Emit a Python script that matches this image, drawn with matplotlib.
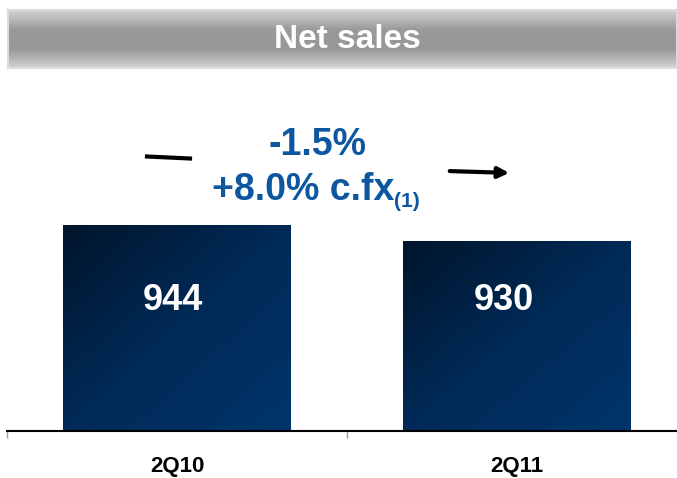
import numpy as np
import matplotlib.pyplot as plt
from matplotlib.colors import LinearSegmentedColormap
from matplotlib.lines import Line2D
from matplotlib.patches import FancyArrowPatch
from matplotlib.transforms import offset_copy

categories = ['2Q10', '2Q11']
net_sales = [944, 930]
change_reported = '-1.5%'
change_cfx = '+8.0% c.fx'
footnote = '(1)'

plt.rcParams['font.family'] = ['Liberation Sans', 'DejaVu Sans']

W, H = 677, 478
fig = plt.figure(figsize=(W / 100, H / 100), dpi=100)


def fx(px):
    return px / W


def fy(py):
    return 1 - py / H


# title banner with vertical grey gradient
bax = fig.add_axes([fx(8), fy(68), fx(669), 58 / H])
grey = LinearSegmentedColormap.from_list('g', ['#d2d2d2', '#9a9a9a', '#979797', '#d2d2d2'])
bax.imshow(np.linspace(0, 1, 100).reshape(-1, 1), cmap=grey, aspect='auto',
           extent=(0, 1, 0, 1), origin='upper')
bax.set_xlim(0, 1)
bax.set_ylim(0, 1)
bax.set_xticks([])
bax.set_yticks([])
for s in bax.spines.values():
    s.set_color('#dcdcdc')
    s.set_linewidth(1.5)
bax.text(0.508, 0.5, 'Net sales', color='white', fontsize=24, fontweight='bold',
         ha='center', va='center',
         family=['Liberation Sans Narrow', 'Liberation Sans', 'DejaVu Sans'])

# main bar axes
ax = fig.add_axes([fx(7), fy(431), 670 / W, 331 / H])
ymin = 763.75
px_per_unit = 206 / (944 - ymin)
ax.set_xlim(-0.5, -0.5 + 670 / 340)
ax.set_ylim(ymin, ymin + 331 / px_per_unit)

x = np.arange(len(categories))
bars = ax.bar(x, net_sales, width=0.668, color='#00264d', zorder=2)

navy = LinearSegmentedColormap.from_list('n', ['#00152b', '#002a57', '#00356b'])
gy, gx = np.mgrid[0:1:100j, 0:1:100j]
grad = (gx + gy) / 2
label_shift = [-4, -13]  # labels sit a little left of bar centre in the original
for b, v, dx in zip(bars, net_sales, label_shift):
    im = ax.imshow(grad, cmap=navy, aspect='auto', origin='upper', zorder=3,
                   extent=(b.get_x(), b.get_x() + b.get_width(), ymin, v))
    im.set_clip_path(b)
    tr = offset_copy(ax.transData, fig=fig, x=dx, y=0, units='dots')
    ax.text(b.get_x() + b.get_width() / 2, 878, str(v), color='white',
            fontsize=26, fontweight='bold', ha='center', va='center',
            zorder=4, transform=tr)

for side in ['left', 'right', 'top']:
    ax.spines[side].set_visible(False)
ax.spines['bottom'].set_color('black')
ax.spines['bottom'].set_linewidth(1.5)
ax.spines['bottom'].set_zorder(5)
ax.set_yticks([])
ax.set_xticks(x)
ax.set_xticklabels(categories, fontsize=16, fontweight='bold')
ax.tick_params(axis='x', which='major', length=0, pad=18)
ax.set_xticks([-0.5, 0.5], minor=True)
ax.tick_params(axis='x', which='minor', length=5, color='#a0a0a0', width=1)

# growth annotation
blue = '#0d56a0'
fig.text(fx(318), fy(155), change_reported, color=blue, fontsize=27,
         fontweight='bold', ha='center', va='baseline')
fig.text(fx(212), fy(200), change_cfx, color=blue, fontsize=27,
         fontweight='bold', ha='left', va='baseline')
fig.text(fx(394), fy(207), footnote, color=blue, fontsize=15,
         fontweight='bold', ha='left', va='baseline')

fig.add_artist(Line2D([fx(147), fx(190)], [fy(156.5), fy(158.5)],
                      transform=fig.transFigure, color='black', lw=3))
fig.add_artist(FancyArrowPatch((fx(447), fy(171)), (fx(512), fy(173)),
                               transform=fig.transFigure, arrowstyle='-|>',
                               mutation_scale=16, lw=3, color='black'))

fig.savefig('out.png', dpi=100)
